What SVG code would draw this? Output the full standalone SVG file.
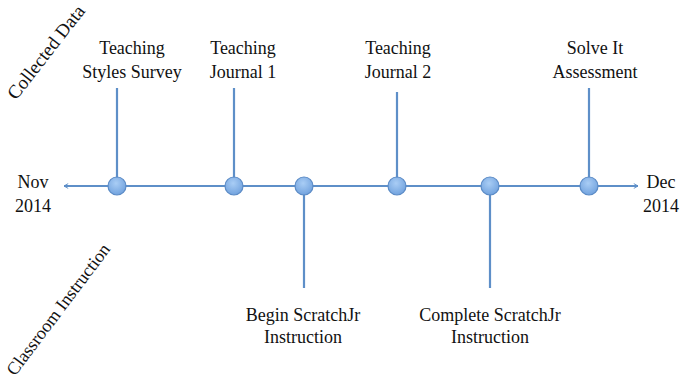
<svg xmlns="http://www.w3.org/2000/svg" width="687" height="388" viewBox="0 0 687 388">
  <style>
    text { font-family: "Liberation Serif", "Times New Roman", serif; font-size: 18px; fill: #111; text-anchor: middle; }
    .axis { font-size: 19px; }
    .conn { stroke: #5e8fc8; stroke-width: 2.2; fill: none; }
    .dot { fill: url(#dotFill); stroke: #5b8bc6; stroke-width: 1.2; }
  </style>
  <defs>
    <radialGradient id="dotFill" cx="0.45" cy="0.35" r="0.7">
      <stop offset="0" stop-color="#a9cdf5"/>
      <stop offset="1" stop-color="#6d9fdc"/>
    </radialGradient>
    <marker id="arrow" viewBox="0 0 10 10" refX="8" refY="5" markerWidth="6" markerHeight="6" orient="auto-start-reverse" markerUnits="userSpaceOnUse">
      <path d="M1,1 L8,5 L1,9" fill="none" stroke="#5e8fc8" stroke-width="1.6"/>
    </marker>
  </defs>
  <rect width="687" height="388" fill="#fff"/>

  <!-- axis labels -->
  <text class="axis" transform="translate(51,56) rotate(-52)">Collected Data</text>
  <text class="axis" style="font-size:18px" transform="translate(63,313) rotate(-53)">Classroom Instruction</text>

  <g id="connectors">
    <line class="conn" x1="64" y1="186" x2="638" y2="186" marker-start="url(#arrow)" marker-end="url(#arrow)"/>
    <line class="conn" x1="117" y1="88" x2="117" y2="186"/>
    <line class="conn" x1="234" y1="88" x2="234" y2="186"/>
    <line class="conn" x1="304" y1="186" x2="304" y2="288"/>
    <line class="conn" x1="397" y1="92" x2="397" y2="186"/>
    <line class="conn" x1="490" y1="186" x2="490" y2="288"/>
    <line class="conn" x1="589" y1="88" x2="589" y2="186"/>
  </g>

  <g id="start">
    <text x="33" y="188">Nov</text>
    <text x="33" y="212">2014</text>
  </g>
  <g id="end">
    <text x="661" y="188">Dec</text>
    <text x="661" y="212">2014</text>
  </g>

  <g id="survey">
    <circle class="dot" cx="117" cy="186" r="9"/>
    <text x="132" y="54">Teaching</text>
    <text x="132" y="78">Styles Survey</text>
  </g>
  <g id="journal1">
    <circle class="dot" cx="234" cy="186" r="9"/>
    <text x="243" y="54">Teaching</text>
    <text x="243" y="78">Journal 1</text>
  </g>
  <g id="begin">
    <circle class="dot" cx="304" cy="186" r="9"/>
    <text x="303" y="321">Begin ScratchJr</text>
    <text x="303" y="343">Instruction</text>
  </g>
  <g id="journal2">
    <circle class="dot" cx="397" cy="186" r="9"/>
    <text x="398" y="54">Teaching</text>
    <text x="398" y="78">Journal 2</text>
  </g>
  <g id="complete">
    <circle class="dot" cx="490" cy="186" r="9"/>
    <text x="490" y="321">Complete ScratchJr</text>
    <text x="490" y="343">Instruction</text>
  </g>
  <g id="assessment">
    <circle class="dot" cx="589" cy="186" r="9"/>
    <text x="595" y="54">Solve It</text>
    <text x="595" y="78">Assessment</text>
  </g>
</svg>
